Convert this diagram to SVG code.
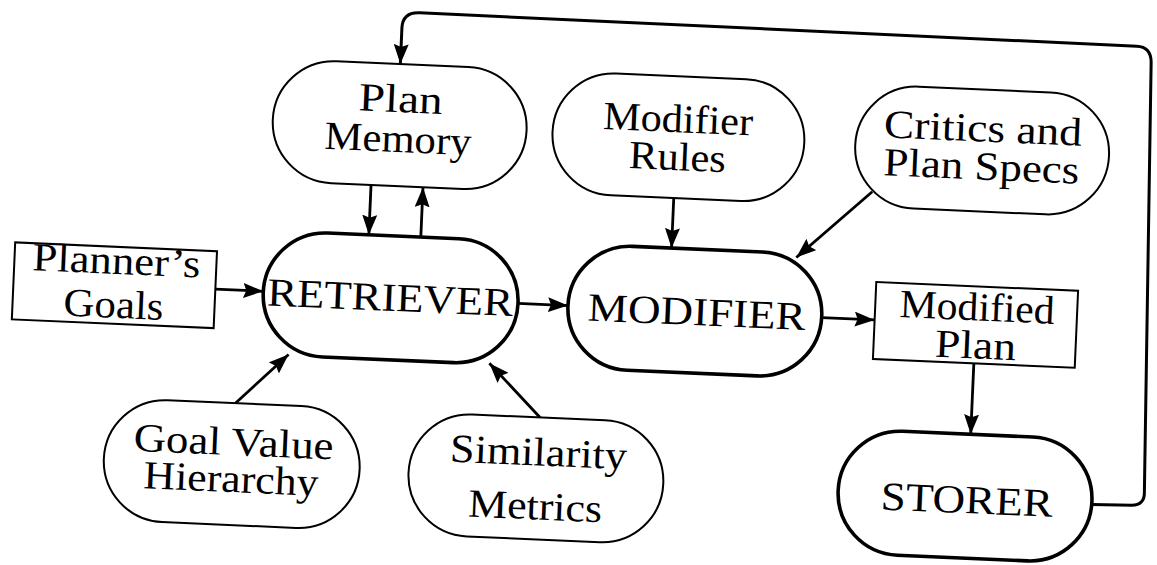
<svg xmlns="http://www.w3.org/2000/svg" width="1157" height="565" viewBox="0 0 1157 565">
<style>
.n{fill:#fff;stroke:#000;stroke-width:2}
.t{stroke-width:3.6}
.c{fill:none;stroke:#000;stroke-width:2.8;marker-end:url(#ah)}
.fb{stroke-width:3}
text{font-family:"Liberation Serif","Times New Roman",serif;font-size:40px;fill:#000;text-anchor:middle}
</style>
<defs>
<marker id="ah" markerUnits="userSpaceOnUse" markerWidth="21" markerHeight="15" refX="20" refY="7.5" orient="auto">
<path d="M0,0 L20,7.5 L0,15 L3,7.5 z" fill="#000"/>
</marker>
</defs>
<rect width="1157" height="565" fill="#fff"/>
<g transform="rotate(2.5 578 282)">
<g id="connectors">
<path class="c" d="M367 194 L367 244"/>
<path class="c" d="M419 244 L419 194"/>
<path class="c" d="M216 305 L264 305"/>
<path class="c" d="M519 306 L569 306"/>
<path class="c" d="M823 307 L876 307"/>
<path class="c" d="M670 194 L670 244"/>
<path class="c" d="M868 179 L795 248"/>
<path class="c" d="M241 418 L292 367"/>
<path class="c" d="M546 419 L493 367"/>
<path class="c" d="M977 346 L977 417"/>
<path class="c fb" d="M1101 482 L1141 481 Q1154 480 1153 467 L1141 37 Q1140 22 1126 22 L408 20 Q391 20 391 36 L391 72"/>
</g>
<g id="plan-memory">
<rect class="n" x="266" y="72" width="254" height="122" rx="61" ry="61"/>
<text x="393" y="120" textLength="84" lengthAdjust="spacingAndGlyphs">Plan</text>
<text x="392" y="160" textLength="147" lengthAdjust="spacingAndGlyphs">Memory</text>
</g>
<g id="modifier-rules">
<rect class="n" x="546" y="72" width="252" height="122" rx="61" ry="61"/>
<text x="671" y="128" textLength="150" lengthAdjust="spacingAndGlyphs">Modifier</text>
<text x="672" y="166" textLength="97" lengthAdjust="spacingAndGlyphs">Rules</text>
</g>
<g id="critics">
<rect class="n" x="849" y="72" width="254" height="122" rx="61" ry="61"/>
<text x="976" y="124" textLength="198" lengthAdjust="spacingAndGlyphs">Critics and</text>
<text x="976" y="162" textLength="196" lengthAdjust="spacingAndGlyphs">Plan Specs</text>
</g>
<g id="planners-goals">
<rect class="n" x="14" y="267" width="202" height="77"/>
<text x="116" y="294" textLength="168" lengthAdjust="spacingAndGlyphs">Planner’s</text>
<text x="115" y="338" textLength="100" lengthAdjust="spacingAndGlyphs">Goals</text>
</g>
<g id="retriever">
<rect class="n t" x="264" y="244" width="255" height="124" rx="62" ry="62"/>
<text x="391" y="319" textLength="246" lengthAdjust="spacingAndGlyphs">RETRIEVER</text>
</g>
<g id="modifier">
<rect class="n t" x="569" y="244" width="254" height="124" rx="62" ry="62"/>
<text x="698" y="320" textLength="218" lengthAdjust="spacingAndGlyphs">MODIFIER</text>
</g>
<g id="modified-plan">
<rect class="n" x="876" y="269" width="202" height="77"/>
<text x="978" y="303" textLength="155" lengthAdjust="spacingAndGlyphs">Modified</text>
<text x="978" y="341" textLength="81" lengthAdjust="spacingAndGlyphs">Plan</text>
</g>
<g id="goal-value-hierarchy">
<rect class="n" x="112" y="418" width="256" height="122" rx="61" ry="61"/>
<text x="241" y="470" textLength="200" lengthAdjust="spacingAndGlyphs">Goal Value</text>
<text x="240" y="507" textLength="175" lengthAdjust="spacingAndGlyphs">Hierarchy</text>
</g>
<g id="similarity-metrics">
<rect class="n" x="417" y="419" width="255" height="122" rx="61" ry="61"/>
<text x="546" y="467" textLength="177" lengthAdjust="spacingAndGlyphs">Similarity</text>
<text x="545" y="521" textLength="134" lengthAdjust="spacingAndGlyphs">Metrics</text>
</g>
<g id="storer">
<rect class="n t" x="847" y="417" width="254" height="124" rx="62" ry="62"/>
<text x="976" y="496" textLength="172" lengthAdjust="spacingAndGlyphs">STORER</text>
</g>
</g>
</svg>
